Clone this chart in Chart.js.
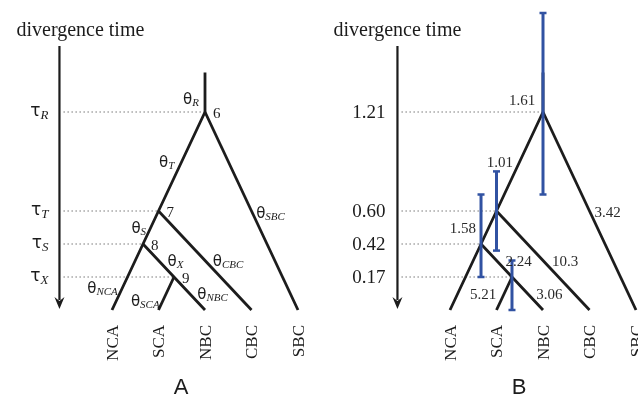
<!DOCTYPE html>
<html>
<head>
<meta charset="utf-8">
<script src="https://cdn.jsdelivr.net/npm/chart.js@4"></script>
<style>
body { margin: 0; width: 638px; height: 400px; overflow: hidden; background: #fff; position: relative; }
canvas { position: absolute; top: 0; }
</style>
</head>
<body>
<canvas id="panelA" width="318" height="400" style="left:0"></canvas>
<canvas id="panelB" width="340" height="400" style="left:318px"></canvas>
<script>
// tips of the tree, left to right (x in leaf units, all at height 0)
var leaves = ['NCA', 'SCA', 'NBC', 'CBC', 'SBC'];
var leaf_pos = [0, 1, 2, 3, 4];

// inner nodes: schematic x and height level
var node_ids = ['6', '7', '8', '9'];
var node_x = [2, 1, 0.667, 1.333];
var node_level = [6, 3, 2, 1];
var stem_top = 7.2;
var axis_top = 8.0;

// divergence time labels (panel A symbolic, panel B estimates)
var tau_names = ['R', 'T', 'S', 'X'];
var tau_values = ['1.21', '0.60', '0.42', '0.17'];

// branches and their theta estimates
var branches = ['R', 'T', 'S', 'X', 'NCA', 'SCA', 'NBC', 'CBC', 'SBC'];
var theta_values = ['1.61', '1.01', '1.58', '2.24', '', '5.21', '3.06', '10.3', '3.42'];

// interval bars on the node ages (in height levels)
var ci_low = [3.5, 1.8, 1.0, 0.0];
var ci_high = [9.0, 4.2, 3.5, 1.5];

// tree topology
var branch_edges = {
    R: ['top', '6'], T: ['6', '7'], S: ['7', '8'], X: ['8', '9'],
    NCA: ['8', 'NCA'], SCA: ['9', 'SCA'], NBC: ['9', 'NBC'], CBC: ['7', 'CBC'], SBC: ['6', 'SBC']
};
var tree_paths = [['top', '6', '7', '8', 'NCA'], ['6', 'SBC'], ['7', 'CBC'], ['8', '9', 'NBC'], ['9', 'SCA']];

var pos = {};
leaves.forEach(function (n, i) { pos[n] = {x: leaf_pos[i], y: 0}; });
node_ids.forEach(function (n, i) { pos[n] = {x: node_x[i], y: node_level[i]}; });
pos.top = {x: node_x[0], y: stem_top};

var X_UNIT = 46.5, Y_UNIT = 33;
var AXIS_X = -1.13;
var INK = '#1c1c1c';
var BLUE = '#3152a2';
var SERIF = '"Liberation Serif", "DejaVu Serif", serif';

// label offsets from the branch middle, in pixels
var label_off = {
    A: {R: [-14, 6], T: [-15, 0], S: [-12, 0], X: [17, 0], NCA: [-25, 10], SCA: [-21, 7], NBC: [23, 0], CBC: [23, 0], SBC: [19, 1]},
    B: {R: [-21, 8], T: [-20, 0], S: [-26, 0], X: [22, 0], NCA: [0, 0], SCA: [-21, 0], NBC: [22, 0], CBC: [22, 0], SBC: [18, 1]}
};

function sub_label(ctx, main, sub, cx, cy, mainFont, subFont, mainDy, subDy, align) {
    ctx.font = mainFont;
    var w1 = ctx.measureText(main).width;
    ctx.font = subFont;
    var w2 = ctx.measureText(sub).width;
    var left = align === 'right' ? cx - w1 - w2 : cx - (w1 + w2) / 2;
    ctx.textAlign = 'left';
    ctx.textBaseline = 'alphabetic';
    ctx.font = mainFont;
    ctx.fillText(main, left, cy + mainDy);
    ctx.font = subFont;
    ctx.fillText(sub, left + w1, cy + subDy);
}

function make_panel(canvas_id, panel) {
    var canvas = document.getElementById(canvas_id);
    var W = canvas.width, H = canvas.height;
    var x0 = panel === 'A' ? 112 : 132;
    var xmin = -x0 / X_UNIT;
    var ymax = 310 / Y_UNIT;

    var datasets = [];
    tree_paths.forEach(function (p) {
        datasets.push({data: p.map(function (k) { return pos[k]; }), borderColor: INK, borderWidth: 2.8, order: 1});
    });
    datasets.push({data: [{x: AXIS_X, y: axis_top}, {x: AXIS_X, y: 0.3}], borderColor: INK, borderWidth: 2.2, order: 1});
    node_level.forEach(function (lvl, i) {
        datasets.push({data: [{x: AXIS_X + 0.09, y: lvl}, {x: node_x[i], y: lvl}],
            borderColor: '#333', borderWidth: 1, borderDash: [1, 3], order: 2});
    });
    if (panel === 'B') {
        node_x.forEach(function (nx, i) {
            datasets.push({data: [{x: nx, y: ci_low[i]}, {x: nx, y: ci_high[i]}],
                borderColor: BLUE, borderWidth: 3, order: 0,
                pointRadius: 3.5, pointStyle: 'line', pointBorderWidth: 2.5, pointBorderColor: BLUE});
        });
    }
    datasets.forEach(function (d) {
        d.showLine = true;
        d.fill = false;
        d.borderCapStyle = 'butt';
        if (d.pointRadius === undefined) d.pointRadius = 0;
    });

    var texts = {
        id: 'texts',
        afterDatasetsDraw: function (chart) {
            var ctx = chart.ctx;
            var sx = chart.scales.x, sy = chart.scales.y;
            var px = function (v) { return sx.getPixelForValue(v); };
            var py = function (v) { return sy.getPixelForValue(v); };
            var ax = px(AXIS_X);
            ctx.save();
            ctx.fillStyle = INK;

            // arrow head
            var tip = py(0) - 1;
            ctx.beginPath();
            ctx.moveTo(ax, tip);
            ctx.lineTo(ax - 5, tip - 12);
            ctx.lineTo(ax, tip - 8);
            ctx.lineTo(ax + 5, tip - 12);
            ctx.closePath();
            ctx.fill();

            // title
            ctx.font = '20px ' + SERIF;
            ctx.textAlign = 'left';
            ctx.textBaseline = 'alphabetic';
            ctx.fillText('divergence time', ax - (panel === 'A' ? 43 : 64), 36);

            // time labels
            node_level.forEach(function (lvl, i) {
                var y = py(lvl);
                if (panel === 'A') {
                    sub_label(ctx, 'τ', tau_names[i], ax - 11, y, '17px "DejaVu Sans"', 'italic 13px ' + SERIF, 3.5, 6.5, 'right');
                } else {
                    ctx.font = '19px ' + SERIF;
                    ctx.textAlign = 'right';
                    ctx.fillText(tau_values[i], ax - 12, y + 6);
                }
            });

            // branch labels
            branches.forEach(function (b, i) {
                var e = branch_edges[b];
                var mx = (px(pos[e[0]].x) + px(pos[e[1]].x)) / 2;
                var my = (py(pos[e[0]].y) + py(pos[e[1]].y)) / 2;
                var off = label_off[panel][b];
                if (panel === 'A') {
                    sub_label(ctx, 'θ', b, mx + off[0], my + off[1], '15px "DejaVu Sans"', 'italic 11px ' + SERIF, 5.5, 7.5, 'center');
                } else if (theta_values[i]) {
                    ctx.fillStyle = '#2a2a2a';
                    ctx.font = '15px ' + SERIF;
                    ctx.textAlign = 'center';
                    ctx.fillText(theta_values[i], mx + off[0], my + off[1] + 5);
                    ctx.fillStyle = INK;
                }
            });

            // node numbers
            if (panel === 'A') {
                ctx.font = '15px ' + SERIF;
                ctx.textAlign = 'left';
                node_ids.forEach(function (n, i) {
                    ctx.fillText(n, px(node_x[i]) + 8, py(node_level[i]) + 6);
                });
            }

            // tip names, turned upright
            ctx.font = '17px ' + SERIF;
            leaves.forEach(function (n, i) {
                ctx.save();
                ctx.translate(px(leaf_pos[i]) + 5.5, 325);
                ctx.rotate(-Math.PI / 2);
                ctx.textAlign = 'right';
                ctx.fillText(n, 0, 0);
                ctx.restore();
            });

            // panel letter
            ctx.font = '22px "Liberation Sans", Arial, sans-serif';
            ctx.textAlign = 'center';
            ctx.fillText(panel, px(node_x[0]) - 24, 394);
            ctx.restore();
        }
    };

    return new Chart(canvas, {
        type: 'scatter',
        data: {datasets: datasets},
        options: {
            responsive: false,
            animation: false,
            events: [],
            layout: {padding: 0, autoPadding: false},
            plugins: {legend: {display: false}, tooltip: {enabled: false}},
            scales: {
                x: {type: 'linear', display: false, min: xmin, max: xmin + W / X_UNIT},
                y: {type: 'linear', display: false, min: ymax - H / Y_UNIT, max: ymax}
            }
        },
        plugins: [texts]
    });
}

make_panel('panelA', 'A');
make_panel('panelB', 'B');
</script>
</body>
</html>
